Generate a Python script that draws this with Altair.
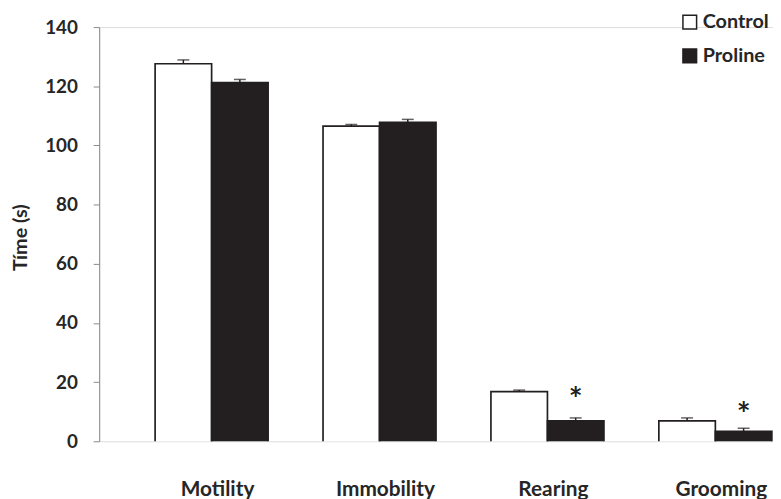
import altair as alt
import pandas as pd

categories = ["Motility", "Immobility", "Rearing", "Grooming"]
groups = ["Control", "Proline"]
control_mean = [127.6, 106.5, 16.8, 6.9]
control_err = [1.3, 0.6, 0.5, 1.0]
proline_mean = [121.2, 107.8, 6.9, 3.4]
proline_err = [1.1, 1.0, 1.0, 1.0]
star_pos = [None, None, 17.1, 11.7]
y_ticks = [0, 20, 40, 60, 80, 100, 120, 140]

rows = []
for i, c in enumerate(categories):
    rows.append({"cat": c, "grp": "Control", "mean": control_mean[i],
                 "top": control_mean[i] + control_err[i], "base": -2, "star": None})
    rows.append({"cat": c, "grp": "Proline", "mean": proline_mean[i],
                 "top": proline_mean[i] + proline_err[i], "base": -2, "star": star_pos[i]})
df = pd.DataFrame(rows)

FONT = "Lato"
INK = "#231f20"
TXT = "#262626"

xscale = alt.Scale(domain=categories, paddingInner=0.327, paddingOuter=0.17, align=0.98)
yscale = alt.Scale(domain=[0, 140], nice=False)
x = alt.X("cat:N", scale=xscale, sort=categories,
          axis=alt.Axis(title=None, labelAngle=0, domain=False, ticks=False,
                        labelFont=FONT, labelFontSize=21, labelFontWeight="bold",
                        labelColor=TXT, labelPadding=55, labelBaseline="alphabetic",
                        labelOffset=6))
xo = alt.XOffset("grp:N", sort=groups, scale=alt.Scale(paddingInner=0, paddingOuter=0))

bars = alt.Chart(df).mark_bar(stroke=INK, strokeWidth=1.7, clip=True).encode(
    x=x, xOffset=xo,
    y=alt.Y("mean:Q", scale=yscale,
            axis=alt.Axis(values=y_ticks, title="Tíme (s)", grid=False,
                          domainColor="#8a8a8a", tickColor="#8a8a8a", tickSize=6,
                          labelFont=FONT, labelFontSize=19, labelFontWeight="bold",
                          labelColor=TXT, labelPadding=16,
                          titleFont=FONT, titleFontSize=20, titleFontWeight="bold",
                          titleColor=TXT, titleX=-79, titleY=212,
                          titleBaseline="middle")),
    y2=alt.Y2("base:Q"),
    fill=alt.Fill("grp:N", sort=groups,
                  scale=alt.Scale(domain=groups, range=["#ffffff", INK]),
                  legend=alt.Legend(title=None, orient="none", legendX=586, legendY=-15,
                                    symbolType="square", symbolSize=190,
                                    symbolStrokeColor=INK, symbolStrokeWidth=1.5,
                                    labelFont=FONT, labelFontSize=20, labelFontWeight="bold",
                                    labelColor=TXT, rowPadding=14, labelOffset=3)),
)

err = alt.Chart(df).mark_rule(color=INK, strokeWidth=1.5).encode(
    x=x, xOffset=xo, y=alt.Y("mean:Q", scale=yscale), y2="top:Q")

caps = alt.Chart(df).mark_tick(color=INK, thickness=1.5, size=12, orient="horizontal").encode(
    x=x, xOffset=xo, y=alt.Y("top:Q", scale=yscale))

stars = alt.Chart(df).transform_filter("datum.star != null").mark_text(
    text="*", font=FONT, fontSize=33, fontWeight="bold", color=INK, baseline="middle", dy=10
).encode(x=x, xOffset=xo, y=alt.Y("star:Q", scale=yscale))

chart = alt.layer(bars, err, caps, stars).properties(
    width=680, height=418,
    autosize=alt.AutoSizeParams(type="none"),
    padding={"left": 92, "top": 17, "right": 0, "bottom": 56},
).configure_view(stroke=None).configure(background="white")

chart.save("out.html", embed_options={"renderer": "svg", "actions": False})
